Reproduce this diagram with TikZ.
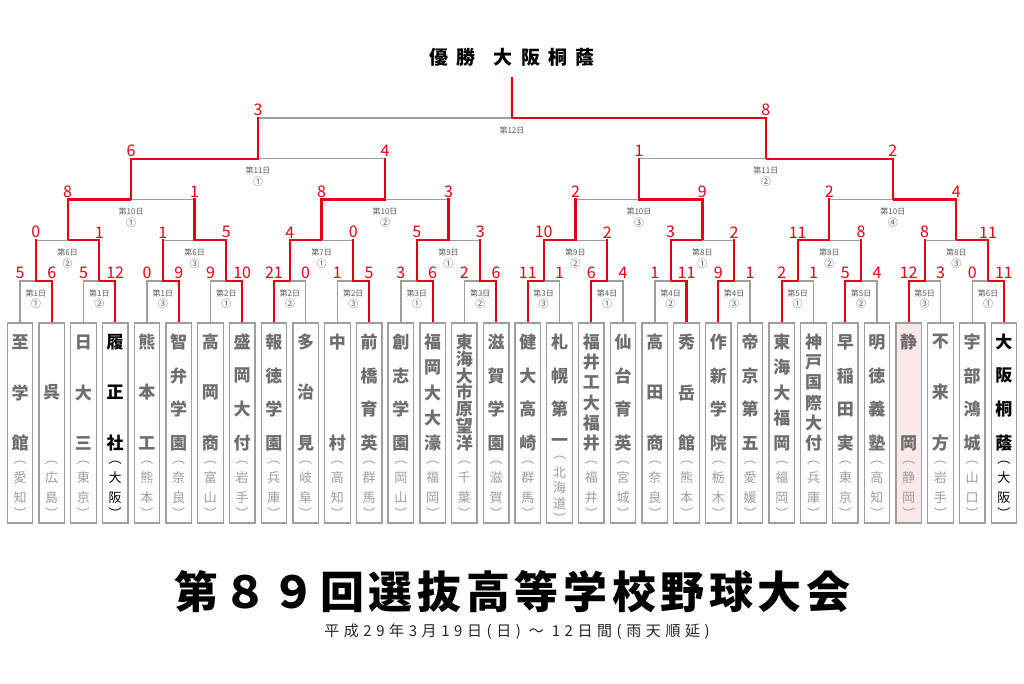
\documentclass[tikz,border=0pt]{standalone}
\usepackage{fontspec}
\newfontfamily\jp{Noto Sans CJK JP}
\definecolor{winred}{HTML}{E60012}
\definecolor{linegray}{HTML}{9E9E9E}
\definecolor{namegray}{HTML}{6E6E6E}
\definecolor{prefgray}{HTML}{9C9C9C}
\definecolor{daygray}{HTML}{5A5A5A}
\definecolor{hostpink}{HTML}{FBE9E9}
\tikzset{
  win/.style={draw=winred, line width=2.2pt},
  lose/.style={draw=linegray, line width=1.4pt},
  teambox/.style={draw=linegray, line width=1.3pt, minimum width=25.5pt, minimum height=200pt, inner sep=0pt},
  namech/.style={font=\jp\bfseries\fontsize{17}{17}\selectfont, inner sep=0pt},
  prefch/.style={font=\jp\fontsize{13}{13}\selectfont, inner sep=0pt},
  score/.style={text=winred, font=\jp\fontsize{16}{16}\selectfont, anchor=south, inner sep=0pt, yshift=2pt},
  daylbl/.style={text=daygray, font=\jp\fontsize{8}{8}\selectfont, inner sep=0pt},
  circlbl/.style={text=daygray, font=\jp\fontsize{10}{10}\selectfont, inner sep=0pt},
}
\begin{document}
\begin{tikzpicture}[x=1pt, y=-1pt]
  \fill[white] (0,0) rectangle (1024,683);

  % team boxes, names and prefectures
  \foreach \i/\nn/\name/\pn/\pref/\kind in {
      0/3/{至,学,館}/2/{愛,知}/0,
      1/1/{呉}/2/{広,島}/0,
      2/3/{日,大,三}/2/{東,京}/0,
      3/3/{履,正,社}/2/{大,阪}/1,
      4/3/{熊,本,工}/2/{熊,本}/0,
      5/4/{智,弁,学,園}/2/{奈,良}/0,
      6/3/{高,岡,商}/2/{富,山}/0,
      7/4/{盛,岡,大,付}/2/{岩,手}/0,
      8/4/{報,徳,学,園}/2/{兵,庫}/0,
      9/3/{多,治,見}/2/{岐,阜}/0,
      10/2/{中,村}/2/{高,知}/0,
      11/4/{前,橋,育,英}/2/{群,馬}/0,
      12/4/{創,志,学,園}/2/{岡,山}/0,
      13/5/{福,岡,大,大,濠}/2/{福,岡}/0,
      14/7/{東,海,大,市,原,望,洋}/2/{千,葉}/0,
      15/4/{滋,賀,学,園}/2/{滋,賀}/0,
      16/4/{健,大,高,崎}/2/{群,馬}/0,
      17/4/{札,幌,第,一}/3/{北,海,道}/0,
      18/6/{福,井,工,大,福,井}/2/{福,井}/0,
      19/4/{仙,台,育,英}/2/{宮,城}/0,
      20/3/{高,田,商}/2/{奈,良}/0,
      21/3/{秀,岳,館}/2/{熊,本}/0,
      22/4/{作,新,学,院}/2/{栃,木}/0,
      23/4/{帝,京,第,五}/2/{愛,媛}/0,
      24/5/{東,海,大,福,岡}/2/{福,岡}/0,
      25/6/{神,戸,国,際,大,付}/2/{兵,庫}/0,
      26/4/{早,稲,田,実}/2/{東,京}/0,
      27/4/{明,徳,義,塾}/2/{高,知}/0,
      28/2/{静,岡}/2/{静,岡}/2,
      29/3/{不,来,方}/2/{岩,手}/0,
      30/4/{宇,部,鴻,城}/2/{山,口}/0,
      31/4/{大,阪,桐,蔭}/2/{大,阪}/1}{
    \pgfmathsetmacro{\tx}{20+31.74*\i}
    \ifcase\kind \def\nc{namegray}\def\pc{prefgray}\def\bc{white}
    \or \def\nc{black}\def\pc{black}\def\bc{white}
    \or \def\nc{namegray}\def\pc{prefgray}\def\bc{hostpink}\fi
    \node[teambox, fill=\bc] (t\i) at (\tx,423) {};
    \foreach \ch [count=\kk] in \name {
      \pgfmathsetmacro{\yy}{\nn==1 ? 392 : 342+(\kk-1)*101/max(\nn-1,1)}
      \node[namech, text=\nc] (t\i-n\kk) at (\tx,\yy) {\ch};
    }
    \pgfmathsetmacro{\ps}{\pn==2 ? 20 : 15}
    \pgfmathsetmacro{\yo}{488-\ps*(\pn-1)/2-15}
    \pgfmathsetmacro{\yc}{488+\ps*(\pn-1)/2+15}
    \node[prefch, text=\pc] (t\i-po) at (\tx,\yo) {︵};
    \foreach \ch [count=\kk] in \pref {
      \pgfmathsetmacro{\yy}{488+(\kk-(\pn+1)/2)*\ps}
      \node[prefch, text=\pc] (t\i-p\kk) at (\tx,\yy) {\ch};
    }
    \node[prefch, text=\pc] (t\i-pc) at (\tx,\yc) {︶};
  }

  % bracket: level/match/day/slot/winner side/left score/right score
  \foreach \lv/\mj/\dayn/\circn/\w/\sca/\scb in {
      1/0/1/①/1/5/6, 1/1/1/②/1/5/12, 1/2/1/③/1/0/9, 1/3/2/①/1/9/10,
      1/4/2/②/0/21/0, 1/5/2/③/1/1/5, 1/6/3/①/1/3/6, 1/7/3/②/1/2/6,
      1/8/3/③/0/11/1, 1/9/4/①/0/6/4, 1/10/4/②/1/1/11, 1/11/4/③/0/9/1,
      1/12/5/①/0/2/1, 1/13/5/②/0/5/4, 1/14/5/③/0/12/3, 1/15/6/①/1/0/11,
      2/0/6/②/1/0/1, 2/1/6/③/1/1/5, 2/2/7/①/0/4/0, 2/3/9/①/0/5/3,
      2/4/9/②/0/10/2, 2/5/8/①/0/3/2, 2/6/8/②/0/11/8, 2/7/8/③/1/8/11,
      3/0/10/①/0/8/1, 3/1/10/②/0/8/3, 3/2/10/③/1/2/9, 3/3/10/④/1/2/4,
      4/0/11/①/0/6/4, 4/1/11/②/1/1/2,
      5/0/12/{}/1/3/8}{
    \pgfmathsetmacro{\xm}{20+31.74*(2^\lv*\mj+(2^\lv-1)/2)}
    \pgfmathsetmacro{\yl}{281-40.75*(\lv-1)}
    \pgfmathtruncatemacro{\ja}{2*\mj}
    \pgfmathtruncatemacro{\jb}{2*\mj+1}
    \pgfmathtruncatemacro{\lp}{\lv-1}
    \coordinate (m\lv-\mj) at (\xm,\yl);
    \ifnum\lv=1 \edef\ca{t\ja.north}\edef\cb{t\jb.north}
    \else \edef\ca{m\lp-\ja}\edef\cb{m\lp-\jb}\fi
    \ifnum\w=0 \let\cw\ca \let\cl\cb \else \let\cw\cb \let\cl\ca \fi
    \ifnum\lv=1
      \draw[lose] (\cl) |- (m\lv-\mj);
    \else
      \draw[lose] (\cl |- m\lv-\mj) -- (m\lv-\mj);
      \draw[win, line cap=rect] (\cl) -- (\cl |- m\lv-\mj);
    \fi
    \draw[win] (\cw) |- (m\lv-\mj);
    \node[score] (s\lv-\ja) at (\ca |- m\lv-\mj) {\sca};
    \node[score] (s\lv-\jb) at (\cb |- m\lv-\mj) {\scb};
    \node[daylbl] (d\lv-\mj) at ([yshift=-12pt]m\lv-\mj) {第\dayn 日};
    \node[circlbl] (c\lv-\mj) at ([yshift=-23pt]m\lv-\mj) {\circn};
  }

  % champion
  \coordinate (champ) at (512,77);
  \draw[win] (m5-0) -- (champ);
  \node[font=\jp\bfseries\fontsize{19}{19}\selectfont\addfontfeatures{LetterSpace=44}] (champion) at (512,57) {優勝\hspace{18pt}大阪桐蔭};

  % title
  \node[font=\jp\bfseries\fontsize{44}{44}\selectfont\addfontfeatures{LetterSpace=10.5}] (title) at (512.5,592) {第８９回選抜高等学校野球大会};
  \node[text=black!85, font=\jp\fontsize{15}{15}\selectfont\addfontfeatures{LetterSpace=30.5}] (dates) at (517,632) {平成29年3月19日(日) ～ 12日間(雨天順延)};
\end{tikzpicture}
\end{document}
